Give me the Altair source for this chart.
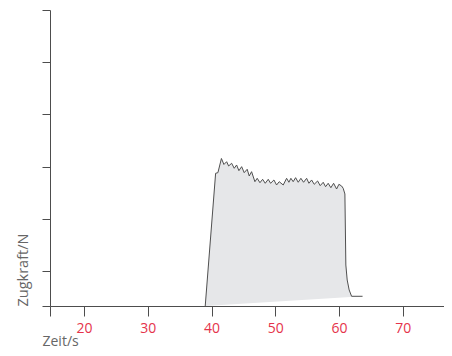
import altair as alt
import pandas as pd

# Time (s) and tensile force (arbitrary N units)
zeit = [39.01, 40.64, 41.00, 41.55, 41.94, 42.37, 42.68, 43.15, 43.56, 43.93,
        44.29, 44.72, 45.12, 45.59, 45.91, 46.28, 46.80, 47.16, 47.59, 48.01,
        48.42, 48.89, 49.26, 49.78, 50.20, 50.61, 51.24, 51.77, 52.13, 52.44,
        52.80, 53.18, 53.59, 54.01, 54.43, 54.91, 55.27, 55.69, 56.10, 56.63,
        57.04, 57.51, 57.88, 58.29, 58.71, 59.14, 59.61, 59.97, 60.39, 60.64,
        60.91, 61.06, 61.27, 61.58, 61.96, 63.68]
kraft = [0.00, 25.42, 25.54, 28.26, 27.11, 27.64, 26.82, 27.34, 26.38, 27.01,
         25.92, 26.69, 25.54, 26.19, 24.90, 25.73, 23.81, 24.46, 23.62, 24.27,
         23.51, 24.27, 23.51, 24.14, 23.18, 23.81, 23.18, 24.46, 23.70, 24.46,
         23.81, 24.58, 23.70, 24.46, 23.70, 24.46, 23.51, 24.14, 23.31, 23.95,
         23.05, 23.70, 22.85, 23.51, 22.66, 23.51, 22.41, 23.31, 22.99, 22.55,
         21.46, 7.85, 4.98, 3.07, 1.86, 1.86]

x_domain = [14.67, 76.45]
x_ticks = [14.67, 20, 30, 40, 50, 60, 70]
y_domain = [0, 56.7]
y_ticks = [0, 6.7, 16.7, 26.7, 36.7, 46.7, 56.7]

df = pd.DataFrame({"zeit": zeit, "kraft": kraft, "order": list(range(len(zeit)))})

font = "Open Sans"
axis_color = "#4d4d4d"

chart = alt.Chart(df).mark_line(
    fill="#e6e7e9", stroke="#505050", strokeWidth=1, strokeJoin="miter"
).encode(
    x=alt.X("zeit:Q",
            scale=alt.Scale(domain=x_domain, nice=False, zero=False),
            axis=alt.Axis(values=x_ticks, grid=False, tickSize=10,
                          domainColor=axis_color, tickColor=axis_color,
                          domainWidth=1, tickWidth=1,
                          labelExpr="datum.value < 15 ? '' : format(datum.value, 'd')",
                          labelColor="#e5334b", labelFont=font, labelFontSize=14,
                          labelPadding=5, labelFlush=False,
                          title="Zeit/s", titleFont=font, titleFontSize=14,
                          titleFontWeight="normal", titleColor="#666666",
                          titleAlign="left", titleAnchor="start",
                          titleBaseline="alphabetic", titleX=-8, titleY=39)),
    y=alt.Y("kraft:Q",
            scale=alt.Scale(domain=y_domain, nice=False, zero=False),
            axis=alt.Axis(values=y_ticks, grid=False, tickSize=8, labels=False,
                          domainColor=axis_color, tickColor=axis_color,
                          domainWidth=1, tickWidth=1,
                          title="Zugkraft/N", titleFont=font, titleFontSize=14.5,
                          titleFontWeight="normal", titleColor="#666666",
                          titleAngle=-90, titleAlign="left",
                          titleBaseline="alphabetic", titleX=-23, titleY=296)),
    order="order:Q",
).properties(
    width=394, height=296,
    autosize=alt.AutoSizeParams(type="none"),
    padding={"left": 42, "top": 2, "right": 0, "bottom": 42},
    background="white",
).configure_view(stroke=None)

chart.save("out.html", embed_options={"renderer": "svg", "actions": False})
